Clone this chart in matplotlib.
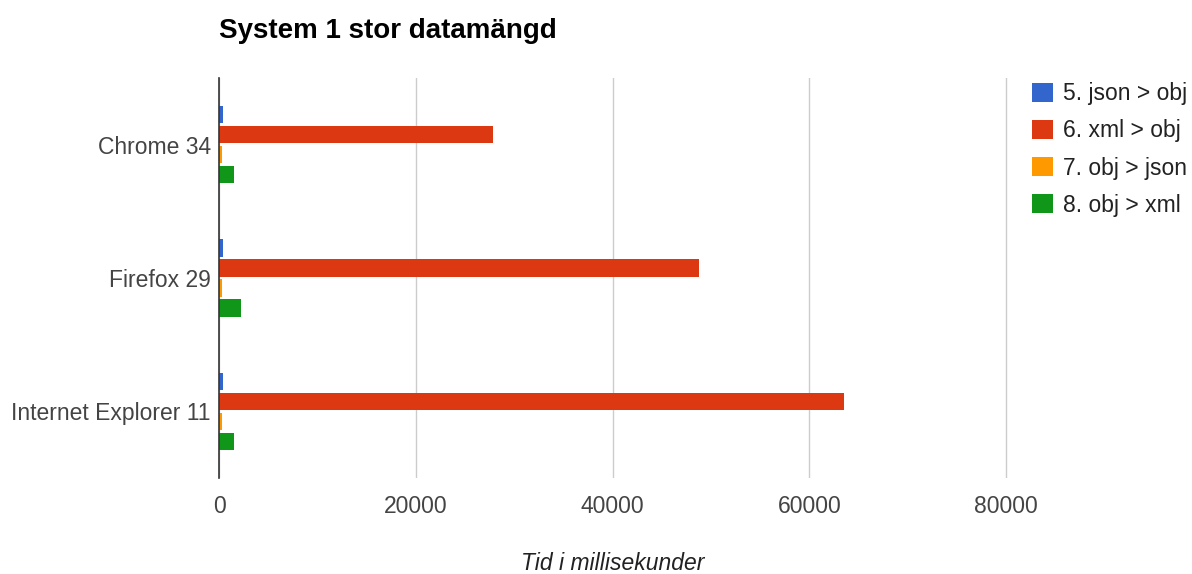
import matplotlib
matplotlib.use("Agg")
import matplotlib.pyplot as plt
import numpy as np
from matplotlib.patches import Patch

plt.rcParams["font.family"] = ["Liberation Sans", "DejaVu Sans"]

categories = ["Chrome 34", "Firefox 29", "Internet Explorer 11"]
series_names = ["5. json > obj", "6. xml > obj", "7. obj > json", "8. obj > xml"]
json_obj = [400, 400, 400]
xml_obj = [27850, 48800, 63500]
obj_json = [350, 300, 300]
obj_xml = [1500, 2250, 1500]
x_ticks = [0, 20000, 40000, 60000, 80000]

colors = ["#3366cc", "#dc3912", "#ff9900", "#109618"]
series = [json_obj, xml_obj, obj_json, obj_xml]

fig = plt.figure(figsize=(11.92, 5.74), dpi=100)
ax = fig.add_axes([219/1192, 1-478/574, (1008-219)/1192, 400/574])

n = len(categories)
bar_h = 0.128
offsets = [-1.5, -0.5, 0.5, 1.5]
centers = np.arange(n)
for s, vals, c, off in zip(series_names, series, colors, offsets):
    ax.barh(centers + off*0.15, vals, height=bar_h, color=c, label=s, zorder=3)

fs = 16.5
ax.set_ylim(n - 0.5, -0.5)
ax.set_xlim(0, 80200)
ax.set_yticks(centers)
ax.set_yticklabels(categories, fontsize=fs, color="#444444")
ax.set_xticks(x_ticks)
ax.set_xticklabels([str(t) for t in x_ticks], fontsize=fs, color="#444444")
ax.tick_params(axis="both", length=0)
ax.tick_params(axis="x", pad=12)
ax.tick_params(axis="y", pad=6)
ax.grid(axis="x", color="#cccccc", linewidth=1, zorder=0)
for sp in ["top", "right", "bottom"]:
    ax.spines[sp].set_visible(False)
ax.spines["left"].set_color("#333333")
ax.spines["left"].set_linewidth(1.2)
ax.spines["left"].set_zorder(4)

fig.text((219 + 1006) / 2 / 1192, 1 - 564/574, "Tid i millisekunder", fontsize=fs,
         style="italic", color="#222222", ha="center", va="center")

fig.text(219/1192, 1-31/574, "System 1 stor datamängd", fontsize=20, fontweight="bold",
         color="#000000", va="center", ha="left")

handles = [Patch(facecolor=c, edgecolor="none") for c in colors]
leg = fig.legend(handles, series_names, loc="upper left", bbox_to_anchor=(1023/1192, 1-73/574),
                 frameon=False, fontsize=fs, handlelength=0.9, handleheight=0.9,
                 labelspacing=0.62, handletextpad=0.45, borderaxespad=0)
for t in leg.get_texts():
    t.set_color("#222222")

fig.savefig("out.png", dpi=100)
